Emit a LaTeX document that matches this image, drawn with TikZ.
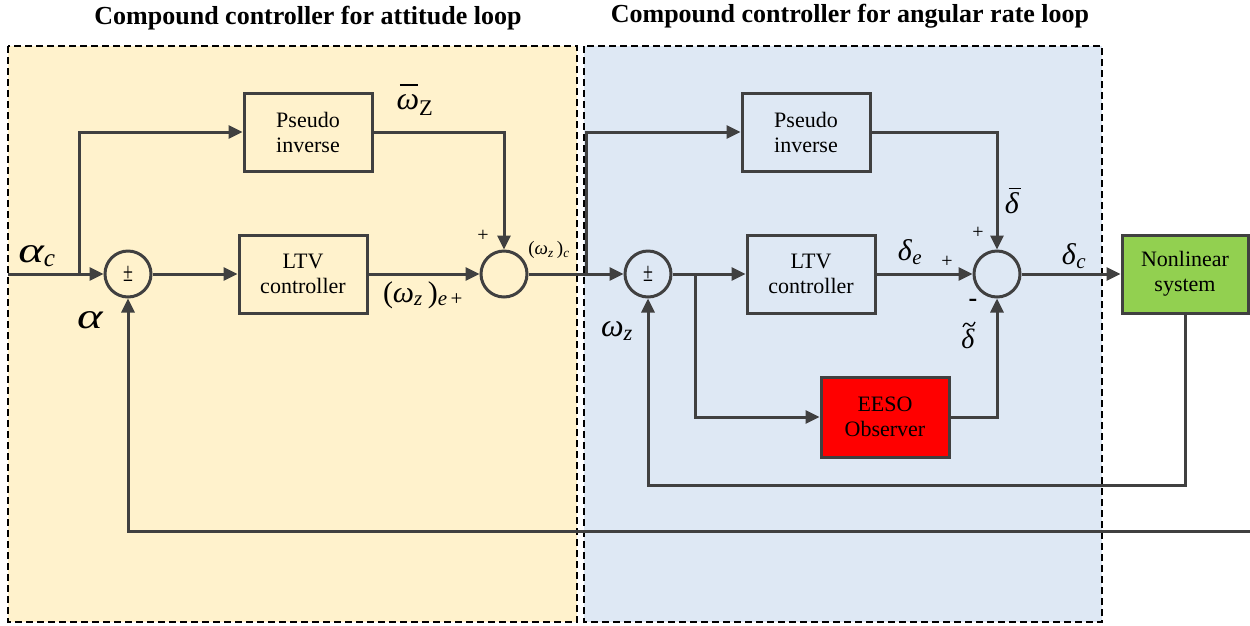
\documentclass[tikz,border=0pt]{standalone}
\usepackage{fontspec}
\setmainfont{Liberation Serif}
\usetikzlibrary{arrows.meta,shadows,calc}
\definecolor{lc}{HTML}{404040}
\definecolor{leftbg}{HTML}{FFF2CC}
\definecolor{rightbg}{HTML}{DEE8F4}
\definecolor{nlgreen}{HTML}{92D050}
\newcommand\gsub[1]{\textsubscript{\itshape #1}}
\newcommand\wideal{\scalebox{1.35}[1]{\itshape α}}
% \barover{glyph}{shift}{width}{height}
\newcommand\barover[4]{\ooalign{\itshape #1\cr\kern#2\rule[#4]{#3}{0.06em}\cr}}
\tikzset{
  arr/.style={draw=lc, line width=3pt, -{Triangle[length=14pt,width=13pt]}},
  blk/.style={draw=lc, line width=3pt, minimum width=128pt, minimum height=78pt, align=center,
    font=\fontsize{22}{25}\selectfont, inner sep=2pt,
    drop shadow={opacity=0.15, shadow xshift=2pt, shadow yshift=-2pt}},
  sumc/.style={circle, draw=lc, line width=3pt, minimum size=46pt, inner sep=0pt, font=\fontsize{18}{18}\selectfont},
  frame/.style={draw=black, line width=2pt, dash pattern=on 7pt off 4pt},
  ttl/.style={font=\fontsize{26}{28}\selectfont\bfseries},
  lbl/.style={inner sep=0pt},
}
\begin{document}
\begin{tikzpicture}[x=1pt,y=-1pt]
\useasboundingbox (0,0) rectangle (1250,625);
% frames
\fill[leftbg] (8,46) rectangle (577,622);
\fill[rightbg] (584,46) rectangle (1102,622);
\draw[frame] (8,46) rectangle (577,622);
\draw[frame] (584,46) rectangle (1102,622);
\node[ttl] (t1) at (308,18) {Compound controller for attitude loop};
\node[ttl] (t2) at (850,16) {Compound controller for angular rate loop};
% blocks
\node[blk, fill=leftbg] (p1) at (308,132) {Pseudo\\inverse};
\node[blk, fill=leftbg] (l1) at (303,274) {LTV\\controller};
\node[blk, fill=rightbg] (p2) at (806,132) {Pseudo\\inverse};
\node[blk, fill=rightbg] (l2) at (811,274) {LTV\\controller};
\node[blk, fill=red, minimum height=80pt] (eeso) at (885,417) {EESO\\Observer};
\node[blk, fill=nlgreen, minimum width=126pt] (nl) at (1185,274) {Nonlinear\\system};
% sums
\node[sumc] (s1) at (128,274) {\scalebox{1}[1.5]{±}};
\node[sumc] (s2) at (504,274) {};
\node[sumc] (s3) at (648,274) {\scalebox{1}[1.5]{±}};
\node[sumc] (s4) at (997,274) {};
% coordinates
\coordinate (in) at (8,274);
\coordinate (b1) at (79,274);
\coordinate (b2) at (586,274);
\coordinate (b3) at (695,274);
\coordinate (fb) at (1185,485);
\coordinate (out) at (1250,531);
% connectors
\draw[arr] (in) -- (s1.west);
\draw[arr] (b1) |- (p1.west);
\draw[arr] (s1.east) -- (l1.west);
\draw[arr] (l1.east) -- (s2.west);
\draw[arr] (p1.east) -| (s2.north);
\draw[arr] (s2.east) -- (s3.west);
\draw[arr] (b2) |- (p2.west);
\draw[arr] (s3.east) -- (l2.west);
\draw[arr] (b3) |- (eeso.west);
\draw[arr] (l2.east) -- (s4.west);
\draw[arr] (p2.east) -| (s4.north);
\draw[arr] (eeso.east) -| (s4.south);
\draw[arr] (s4.east) -- (nl.west);
\draw[arr] (nl.south) -- (fb) -| (s3.south);
\draw[arr] (out) -| (s1.south);
% labels
\node[lbl, font=\fontsize{36}{38}\selectfont] (alc) at (37,256) {\wideal\gsub{c}};
\node[lbl, font=\fontsize{36}{38}\selectfont] (al) at (90,320) {\wideal};
\node[lbl, font=\fontsize{32}{34}\selectfont] (wbar) at (415,105) {\barover{ω}{0.1em}{0.58em}{0.72em}\textsubscript{Z}};
\node[lbl, font=\fontsize{30}{32}\selectfont] (we) at (423,295) {(\textit{ω}\gsub{z}\,)\gsub{e\,\upshape+}};
\node[lbl, font=\fontsize{20}{20}\selectfont] (pl1) at (483,236) {+};
\node[lbl, font=\fontsize{19}{19}\selectfont] (wc) at (549,250) {(\textit{ω}\gsub{z}\,)\gsub{c}};
\node[lbl, font=\fontsize{32}{34}\selectfont] (wz) at (617,331) {\textit{ω}\gsub{z}};
\node[lbl, font=\fontsize{30}{32}\selectfont] (dbar) at (1013,203) {\barover{δ}{0.12em}{0.42em}{0.8em}};
\node[lbl, font=\fontsize{30}{32}\selectfont] (de) at (910,252) {\textit{δ}\gsub{e}};
\node[lbl, font=\fontsize{30}{32}\selectfont] (dc) at (1074,256) {\textit{δ}\gsub{c}};
\node[lbl, font=\fontsize{28}{30}\selectfont] (dt) at (968,339) {\textit{δ}};
\draw[black, line width=1.3pt] ($(dt.north)+(-5,-2)$) .. controls ($(dt.north)+(-3,-7)$) and ($(dt.north)+(-1,-6)$) .. ($(dt.north)+(1,-4)$) .. controls ($(dt.north)+(3,-2)$) and ($(dt.north)+(5,-2)$) .. ($(dt.north)+(7,-7)$);
\node[lbl, font=\fontsize{20}{20}\selectfont] (pl2) at (978,233) {+};
\node[lbl, font=\fontsize{20}{20}\selectfont] (pl3) at (947,262) {+};
\node[lbl, font=\fontsize{26}{26}\selectfont\bfseries] (mn) at (973,303) {-};
\end{tikzpicture}
\end{document}
